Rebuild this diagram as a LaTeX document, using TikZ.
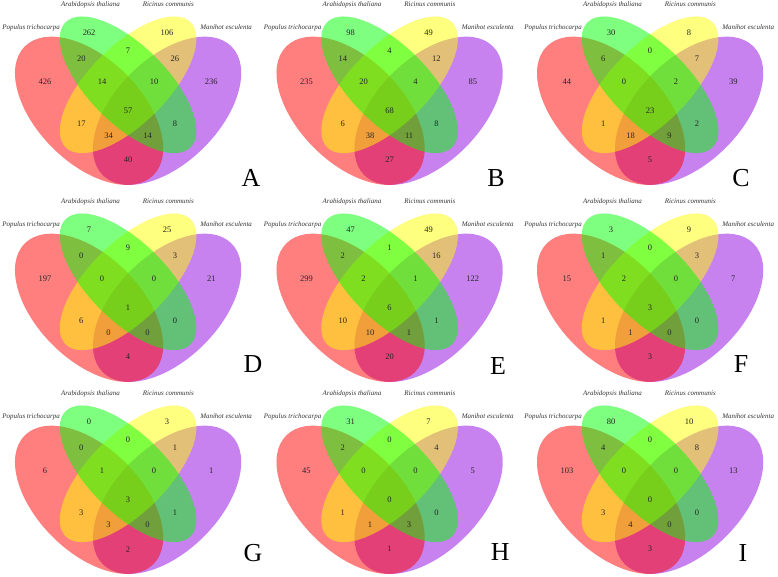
\documentclass[tikz,border=0pt]{standalone}
\usepackage{fontspec}
\setmainfont{Liberation Serif}
\definecolor{vred}{RGB}{255,0,0}
\definecolor{vgreen}{RGB}{0,255,0}
\definecolor{vyellow}{RGB}{255,255,0}
\definecolor{vpurple}{RGB}{145,5,225}
\tikzset{
  set/.style={fill opacity=0.5},
  cnt/.style={font=\fontsize{8.5}{9}\selectfont, text=black!85, inner sep=0pt},
  cat/.style={font=\fontsize{7}{8}\selectfont\itshape, text=black!80, inner sep=0pt},
  tag/.style={font=\fontsize{26}{28}\selectfont, inner sep=0pt},
}
% one four-set panel: name, x shift, y shift, letter, letter x, letter y, counts
\newcommand{\vennpanel}[7]{%
  \begin{scope}[shift={(#2bp,#3bp)}, x=260bp, y=260bp]
    \fill[set, vpurple, rotate around={45:(0.65,0.47)}] (0.65,0.47) ellipse [x radius=0.35, y radius=0.20];
    \fill[set, vred, rotate around={135:(0.35,0.47)}] (0.35,0.47) ellipse [x radius=0.35, y radius=0.20];
    \fill[set, vyellow, rotate around={45:(0.5,0.57)}] (0.5,0.57) ellipse [x radius=0.34, y radius=0.15];
    \fill[set, vgreen, rotate around={135:(0.5,0.57)}] (0.5,0.57) ellipse [x radius=0.34, y radius=0.15];
    \node[cat] (#1-pt) at (0.127,0.79) {Populus trichocarpa};
    \node[cat] (#1-at) at (0.355,0.879) {Arabidopsis thaliana};
    \node[cat] (#1-rc) at (0.655,0.879) {Ricinus communis};
    \node[cat] (#1-me) at (0.877,0.79) {Manihot esculenta};
    \foreach \reg/\cx/\cy in {R/0.18/0.58, G/0.35/0.77, Y/0.65/0.77, P/0.82/0.58,
        RG/0.32/0.67, GY/0.5/0.70, YP/0.68/0.67, RGY/0.40/0.58, GYP/0.60/0.58,
        RGYP/0.5/0.47, RY/0.32/0.42, GP/0.68/0.42, RYP/0.425/0.375,
        RGP/0.575/0.375, RP/0.5/0.28}
      \coordinate (#1-at\reg) at (\cx,\cy);
    \foreach \reg/\n in {#7}
      \node[cnt] (#1-\reg) at (#1-at\reg) {\n};
    \node[tag] (#1-tag) at (#5,#6) {#4};
  \end{scope}}

\begin{document}
\begin{tikzpicture}
  \useasboundingbox (0,0) rectangle (778bp,577bp);

  \vennpanel{pa}{-1.9}{344}{A}{0.973}{0.212}{R/426, G/262, Y/106, P/236, RG/20, GY/7, YP/26,
    RGY/14, GYP/10, RGYP/57, RY/17, GP/8, RYP/34, RGP/14, RP/40}
  \vennpanel{pb}{259.6}{344}{B}{0.909}{0.212}{R/235, G/98, Y/49, P/85, RG/14, GY/4, YP/12,
    RGY/20, GYP/4, RGYP/68, RY/6, GP/8, RYP/38, RGP/11, RP/27}
  \vennpanel{pc}{520.1}{344}{C}{0.850}{0.212}{R/44, G/30, Y/8, P/39, RG/6, GY/0, YP/7,
    RGY/0, GYP/2, RGYP/23, RY/1, GP/2, RYP/18, RGP/9, RP/5}

  \vennpanel{pd}{-1.9}{147}{D}{0.980}{0.254}{R/197, G/7, Y/25, P/21, RG/0, GY/9, YP/3,
    RGY/0, GYP/0, RGYP/1, RY/6, GP/0, RYP/0, RGP/0, RP/4}
  \vennpanel{pe}{259.6}{147}{E}{0.917}{0.246}{R/299, G/47, Y/49, P/122, RG/2, GY/1, YP/16,
    RGY/2, GYP/1, RGYP/6, RY/10, GP/1, RYP/10, RGP/1, RP/20}
  \vennpanel{pf}{520.1}{147}{F}{0.850}{0.254}{R/15, G/3, Y/9, P/7, RG/1, GY/0, YP/3,
    RGY/2, GYP/0, RGYP/3, RY/1, GP/0, RYP/1, RGP/0, RP/3}

  \vennpanel{pg}{-1.9}{-45}{G}{0.980}{0.265}{R/6, G/0, Y/3, P/1, RG/0, GY/0, YP/1,
    RGY/1, GYP/0, RGYP/3, RY/3, GP/1, RYP/3, RGP/0, RP/2}
  \vennpanel{ph}{259.6}{-45}{H}{0.925}{0.269}{R/45, G/31, Y/7, P/5, RG/2, GY/0, YP/4,
    RGY/0, GYP/0, RGYP/0, RY/1, GP/0, RYP/1, RGP/3, RP/1}
  \vennpanel{pi}{520.1}{-45}{I}{0.857}{0.265}{R/103, G/80, Y/10, P/13, RG/4, GY/0, YP/8,
    RGY/0, GYP/0, RGYP/0, RY/3, GP/0, RYP/4, RGP/0, RP/3}
\end{tikzpicture}
\end{document}
